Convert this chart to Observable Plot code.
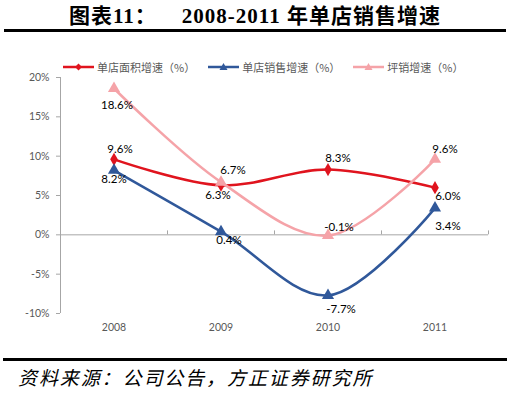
<!DOCTYPE html>
<html><head><meta charset="utf-8">
<script src="https://cdn.jsdelivr.net/npm/d3@7"></script>
<script src="https://cdn.jsdelivr.net/npm/@observablehq/plot@0.6"></script>
<style>
body{margin:0;background:#fff;width:510px;height:394px;position:relative;overflow:hidden;font-family:"Noto Sans CJK SC",sans-serif}
#title{position:absolute;left:0;top:2px;width:510px;text-align:center;font-weight:bold;font-size:21px;letter-spacing:1px;font-family:"Liberation Serif","Noto Sans CJK SC",serif;white-space:pre;line-height:28px;color:#000}
.rule{position:absolute;left:4px;width:502px;height:3px;background:#000}
#legend{position:absolute;top:59px;left:63px;display:flex;align-items:center;font-size:11px;color:#595959;line-height:16px;z-index:2}
#legend .item{display:flex;align-items:center;margin-right:13px}
#legend svg{margin-right:3px}
#chart{position:absolute;left:0;top:60px;z-index:1}
#caption{position:absolute;left:18px;top:364px;font-size:19px;font-style:italic;letter-spacing:1.9px;color:#000;line-height:26px;font-family:"Noto Sans CJK SC",sans-serif}
</style></head>
<body>
<div id="title">图表11：    2008-2011 年单店销售增速</div>
<div class="rule" style="top:29px"></div>
<div id="chart"></div>
<div id="legend"></div>
<div class="rule" style="top:358px;left:3px;width:504px"></div>
<div id="caption">资料来源：公司公告，方正证券研究所</div>
<script>
const years = ["2008", "2009", "2010", "2011"];
const areaGrowth = [9.6, 6.3, 8.3, 6.0];
const salesGrowth = [8.2, 0.4, -7.7, 3.4];
const sqmGrowth = [18.6, 6.7, -0.1, 9.6];
const seriesNames = ["单店面积增速（%）", "单店销售增速（%）", "坪销增速（%）"];
const yTicks = [-10, -5, 0, 5, 10, 15, 20];

// styling / layout (not data)
const colors = ["#e0141e", "#30589a", "#f5a3a8"];
const symbols = ["diamond", "triangle", "triangle"];
const labelOffsets = [
  [[6, -10], [-3, 10], [10, -11], [13, 9]],
  [[0, 9], [8, 9], [13, 14], [13, 18]],
  [[3, 17], [12, -12], [11, -8], [10, -10]]
];

const seriesVals = [areaGrowth, salesGrowth, sqmGrowth];
const idx = years.map((_, i) => i);

// legend
const legend = document.getElementById("legend");
seriesNames.forEach((name, s) => {
  const item = document.createElement("div");
  item.className = "item";
  const sym = s === 0
    ? `<path d="M15.5,3.5 L19,7 L15.5,10.5 L12,7Z" fill="${colors[s]}"/>`
    : `<path d="M15.5,3 L19.5,10 L11.5,10Z" fill="${colors[s]}"/>`;
  item.innerHTML = `<svg width="31" height="14"><line x1="0" x2="31" y1="7" y2="7" stroke="${colors[s]}" stroke-width="2.5"/>${sym}</svg><span>${name}</span>`;
  legend.appendChild(item);
});

const marks = [
  Plot.ruleX([-0.5], {stroke: "#a6a6a6", strokeWidth: 1}),
  Plot.ruleY([0], {stroke: "#a6a6a6", strokeWidth: 1}),
  Plot.ruleX([0.5, 1.5, 2.5, 3.5], {x: d => d, y1: 0, y2: 0.5, stroke: "#a6a6a6"}),
  Plot.axisY({ticks: yTicks, tickFormat: d => d + "%", tickSize: 4, tickPadding: 7, stroke: "#a6a6a6", fill: "#595959", fontSize: 10.5}),
  Plot.axisX({ticks: idx, tickFormat: i => years[i], tickSize: 0, tickPadding: 10, fill: "#595959", fontSize: 10.5})
];
seriesVals.forEach((vals, s) => {
  marks.push(Plot.line(idx, {x: i => i, y: i => vals[i], stroke: colors[s], strokeWidth: 2.5, curve: "catmull-rom"}));
  marks.push(Plot.dot(idx, {x: i => i, y: i => vals[i], fill: colors[s], symbol: symbols[s], r: s === 0 ? 4 : 4.5}));
});
seriesVals.forEach((vals, s) => {
  idx.forEach(i => {
    const [dx, dy] = labelOffsets[s][i];
    marks.push(Plot.text([i], {x: d => d, y: d => vals[d], text: d => vals[d].toFixed(1) + "%", dx, dy, fill: "#000", fontSize: 11.5, fontFamily: "Lato, sans-serif"}));
  });
});

const chart = Plot.plot({
  width: 510,
  height: 283,
  marginLeft: 60,
  marginRight: 22,
  marginTop: 17,
  marginBottom: 30,
  style: {fontFamily: "Lato, 'Noto Sans', sans-serif", background: "transparent"},
  x: {type: "linear", domain: [-0.5, 3.5], axis: null},
  y: {domain: [-10, 20], axis: null},
  marks
});
document.getElementById("chart").appendChild(chart);
</script>
</body></html>
